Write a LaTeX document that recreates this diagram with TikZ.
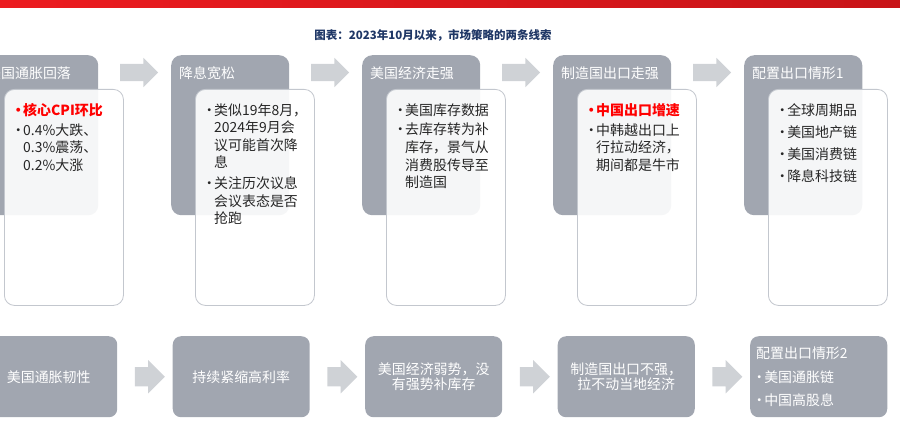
\documentclass[tikz,border=0pt]{standalone}
\usepackage{fontspec}
\setmainfont{Noto Sans CJK SC}
\usetikzlibrary{shapes.arrows,positioning,calc}

\definecolor{boxgray}{HTML}{A1A6B0}
\definecolor{arrowgray}{HTML}{CFD2D6}
\definecolor{panelline}{HTML}{C3C7CE}
\definecolor{titlenavy}{HTML}{1F3766}
\definecolor{bannerleft}{HTML}{EC1C20}
\definecolor{bannerright}{HTML}{C81418}
\definecolor{hotred}{HTML}{FF0000}

\newcommand{\bul}{\makebox[0.3cm][c]{•}}
\newcommand{\ind}{\makebox[0.3cm]{}}

\begin{document}
\begin{tikzpicture}[x=0.03cm,y=-0.03cm,
  darkbox/.style={fill=boxgray,rounded corners=0.3cm,minimum width=3.54cm,
                  minimum height=4.8cm,anchor=north west,inner sep=0pt},
  panel/.style={draw=panelline,line width=0.7pt,fill=white,fill opacity=0.9,
                rounded corners=0.3cm,minimum width=3.57cm,minimum height=6.48cm,
                anchor=north west,inner sep=0pt},
  headtext/.style={text=white,anchor=west,inner sep=0pt,
                   font=\fontsize{11.9pt}{14pt}\selectfont},
  listtext/.style={anchor=north west,inner sep=0pt,align=left,text=black!85,
                   font=\fontsize{11.9pt}{15pt}\selectfont},
  stepbox/.style={fill=boxgray,rounded corners=0.25cm,minimum width=4.11cm,
                  minimum height=2.43cm,anchor=north west,inner sep=0pt,
                  text=white,align=center,font=\fontsize{11.9pt}{13pt}\selectfont},
  toparrow/.style={single arrow,fill=arrowgray,inner sep=0pt,
                   single arrow head extend=0.18cm,minimum height=1.14cm},
  botarrow/.style={single arrow,fill=arrowgray,inner sep=0pt,
                   single arrow head extend=0.21cm,minimum height=0.9cm},
]
\useasboundingbox (0,0) rectangle (900,430);
\clip (0,0) rectangle (900,430);

% Banner and title
\shade[left color=bannerleft,right color=bannerright] (0,0) rectangle (900,8);
\node[font=\fontsize{9.8pt}{11pt}\selectfont\bfseries,text=titlenavy] (title) at (433,35)
  {图表：2023年10月以来，市场策略的两条线索};

% Upper line: header boxes
\node[darkbox] (d1) at (-20,55) {};
\node[darkbox] (d2) at (171,55) {};
\node[darkbox] (d3) at (362,55) {};
\node[darkbox] (d4) at (553,55) {};
\node[darkbox] (d5) at (744,55) {};

\node[headtext] (h1) at ([xshift=0.21cm,yshift=-0.54cm]d1.north west) {美国通胀回落};
\node[headtext] (h2) at ([xshift=0.24cm,yshift=-0.54cm]d2.north west) {降息宽松};
\node[headtext] (h3) at ([xshift=0.24cm,yshift=-0.54cm]d3.north west) {美国经济走强};
\node[headtext] (h4) at ([xshift=0.24cm,yshift=-0.54cm]d4.north west) {制造国出口走强};
\node[headtext] (h5) at ([xshift=0.24cm,yshift=-0.54cm]d5.north west) {配置出口情形1};

% Upper line: detail panels
\node[panel] (p1) at ([xshift=0.72cm,yshift=-1.02cm]d1.north west) {};
\node[panel] (p2) at ([xshift=0.72cm,yshift=-1.02cm]d2.north west) {};
\node[panel] (p3) at ([xshift=0.72cm,yshift=-1.02cm]d3.north west) {};
\node[panel] (p4) at ([xshift=0.72cm,yshift=-1.02cm]d4.north west) {};
\node[panel] (p5) at ([xshift=0.72cm,yshift=-1.02cm]d5.north west) {};

\node[listtext] (l1) at ([xshift=0.27cm,yshift=-0.42cm]p1.north west)
  {\textcolor{hotred}{\bfseries\bul 核心CPI环比}\\[2pt]
   \bul 0.4\%大跌、\\ \ind 0.3\%震荡、\\ \ind 0.2\%大涨};
\node[listtext] (l2) at ([xshift=0.27cm,yshift=-0.42cm]p2.north west)
  {\bul 类似19年8月，\\ \ind 2024年9月会\\ \ind 议可能首次降\\ \ind 息\\[3pt]
   \bul 关注历次议息\\ \ind 会议表态是否\\ \ind 抢跑};
\node[listtext] (l3) at ([xshift=0.27cm,yshift=-0.42cm]p3.north west)
  {\bul 美国库存数据\\[2pt]
   \bul 去库存转为补\\ \ind 库存，景气从\\ \ind 消费股传导至\\ \ind 制造国};
\node[listtext] (l4) at ([xshift=0.27cm,yshift=-0.42cm]p4.north west)
  {\textcolor{hotred}{\bfseries\bul 中国出口增速}\\[2pt]
   \bul 中韩越出口上\\ \ind 行拉动经济，\\ \ind 期间都是牛市};
\node[listtext] (l5) at ([xshift=0.27cm,yshift=-0.42cm]p5.north west)
  {\bul 全球周期品\\[4pt] \bul 美国地产链\\[4pt] \bul 美国消费链\\[4pt] \bul 降息科技链};

% Upper line: arrows
\node[toparrow] (ta1) at ([yshift=-0.525cm]$(d1.north east)!0.5!(d2.north west)$) {\rule{0pt}{0.51cm}};
\node[toparrow] (ta2) at ([yshift=-0.525cm]$(d2.north east)!0.5!(d3.north west)$) {\rule{0pt}{0.51cm}};
\node[toparrow] (ta3) at ([yshift=-0.525cm]$(d3.north east)!0.5!(d4.north west)$) {\rule{0pt}{0.51cm}};
\node[toparrow] (ta4) at ([yshift=-0.525cm]$(d4.north east)!0.5!(d5.north west)$) {\rule{0pt}{0.51cm}};

% Lower line
\node[stepbox] (b1) at (-20,336) {美国通胀韧性};
\node[stepbox] (b2) at (172.5,336) {持续紧缩高利率};
\node[stepbox] (b3) at (365,336) {美国经济弱势，没\\有强势补库存};
\node[stepbox] (b4) at (557.5,336) {制造国出口不强，\\拉不动当地经济};
\node[stepbox] (b5) at (750,336) {};
\node[headtext,align=left,font=\fontsize{11.9pt}{15pt}\selectfont] (bl5)
  at ([xshift=0.12cm]b5.west) {\hspace{0.06cm}配置出口情形2\\[5pt] \bul 美国通胀链\\[5pt] \bul 中国高股息};

\node[botarrow] (ba1) at ($(b1.east)!0.5!(b2.west)$) {\rule{0pt}{0.57cm}};
\node[botarrow] (ba2) at ($(b2.east)!0.5!(b3.west)$) {\rule{0pt}{0.57cm}};
\node[botarrow] (ba3) at ($(b3.east)!0.5!(b4.west)$) {\rule{0pt}{0.57cm}};
\node[botarrow] (ba4) at ($(b4.east)!0.5!(b5.west)$) {\rule{0pt}{0.57cm}};

\end{tikzpicture}
\end{document}
